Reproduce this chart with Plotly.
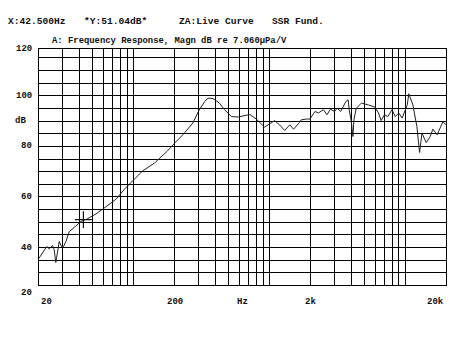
import plotly.graph_objects as go
import numpy as np

# ---- data ----
freq_hz = [20, 21.9, 22.8, 23.8, 25.2, 25.9, 26.6, 28.2, 29.3, 30.3, 31.6, 33.4, 36.4,
           40.8, 45.6, 52.6, 60.4, 73.8, 85.4, 100.9, 116, 142, 177, 200, 230, 272,
           304, 333, 352, 383, 428, 466, 523, 586, 656, 715, 800, 920, 975, 1093,
           1187, 1295, 1410, 1505, 1660, 1715, 1873, 1985, 2166, 2293, 2500, 2650,
           2815, 3017, 3160, 3348, 3650, 3800, 3870, 4010, 4120, 4190, 4360, 4760,
           5350, 6000, 6360, 6650, 7040, 7460, 7990, 8460, 8970, 9500, 10360, 10640,
           11400, 12200, 12770, 13300, 14300, 15300, 16000, 17200, 19000, 20000]
magn_db = [35.8, 39.1, 40.4, 39.5, 40.8, 39.1, 34.1, 42.4, 40.4, 40.4, 42.4, 46.3, 48.1,
           50.3, 51.4, 53.3, 55.6, 59.1, 63.1, 66.8, 70.3, 73.4, 78.2, 81.3, 84.6, 89.2,
           94.5, 97.7, 99.1, 98.9, 97.1, 94.5, 91.8, 91.6, 92.1, 92.6, 90.8, 87.6, 88.5, 90.2,
           88.5, 86.3, 88.5, 86.8, 89.4, 90.5, 90.8, 90.8, 93.8, 93.2, 94.5, 92.5,
           94.7, 93.8, 95.1, 93.8, 97.7, 98.4, 94.5, 89.8, 83.9, 90.5, 95.1, 97.1,
           96.4, 95.5, 93.2, 90.2, 92.5, 91.8, 94.5, 91.8, 93.2, 91.2, 96.4, 100.8,
           96.4, 87.9, 77.6, 85.2, 81.5, 83.9, 86.8, 84.6, 89.8, 88.5]

cursor_freq = [42.5]
cursor_db = [51.04]

x_grid = [20, 30, 40, 50, 60, 70, 80, 90, 100, 200, 300, 400, 500, 600, 700, 800, 900,
          1000, 2000, 3000, 4000, 5000, 6000, 7000, 8000, 9000, 10000, 20000]
y_grid = [30, 35, 40, 45, 50, 55, 60, 65, 70, 75, 80, 85, 90, 95, 100, 105, 110, 115]

x_label_text = ["20", "200", "Hz", "2k", "20k"]
x_label_pos = [20, 200, 632, 2000, 20000]
x_label_anchor = ["left", "center", "center", "center", "right"]

y_label_text = ["120", "100", "80", "60", "40", "20"]
y_label_pos = [118.6, 100, 80, 60, 40, 22.1]

header_texts = ["X:42.500Hz", "*Y:51.04dB*", "ZA:Live Curve", "SSR Fund."]
header_px = [6, 82, 177, 270]
title_text = "A: Frequency Response, Magn dB re 7.060\u00b5Pa/V"

# ---- layout geometry ----
W, H = 450, 338
L, R, T, B = 39, 4, 49, 53
pw, ph = W - L - R, H - T - B
XR = [np.log10(20), np.log10(20000)]
YR = [25.2, 118.5]

def px_x(px):
    return (px - L) / pw

def px_y(py):
    return (H - B - py) / ph

def fx(f):
    return (np.log10(f) - XR[0]) / (XR[1] - XR[0])

def dy(v):
    return (v - YR[0]) / (YR[1] - YR[0])

FONT = dict(family="Liberation Mono, Courier New, monospace", size=9, color="#111",
            weight="bold")
HFONT = dict(FONT, size=9.6)
TFONT = dict(FONT, size=8.9)

fig = go.Figure()
fig.add_trace(go.Scatter(x=freq_hz, y=magn_db, mode="lines",
                         line=dict(color="#222", width=1), hoverinfo="skip",
                         showlegend=False))
fig.add_trace(go.Scatter(x=cursor_freq, y=cursor_db, mode="markers",
                         marker=dict(symbol="cross-thin", size=12,
                                     line=dict(color="#111", width=1.2)),
                         showlegend=False, hoverinfo="skip"))

ann = []
for t, p in zip(header_texts, header_px):
    ann.append(dict(text=t, x=px_x(p), y=px_y(21), xref="paper", yref="paper",
                    xanchor="left", yanchor="middle", showarrow=False, font=HFONT))
ann.append(dict(text=title_text, x=px_x(50), y=px_y(41), xref="paper", yref="paper",
                xanchor="left", yanchor="middle", showarrow=False, font=TFONT))
for t, v in zip(y_label_text, y_label_pos):
    ann.append(dict(text=t, x=px_x(33.5), y=dy(v), xref="paper", yref="paper",
                    xanchor="right", yanchor="middle", showarrow=False, font=FONT))
ann.append(dict(text="dB", x=px_x(27.5), y=dy(90), xref="paper", yref="paper",
                xanchor="right", yanchor="middle", showarrow=False, font=FONT))
for t, v, a in zip(x_label_text, x_label_pos, x_label_anchor):
    ann.append(dict(text=t, x=fx(v), y=px_y(302), xref="paper", yref="paper",
                    xanchor=a, yanchor="middle", showarrow=False, font=FONT))

fig.update_layout(
    width=W, height=H, margin=dict(l=L, r=R, t=T, b=B),
    paper_bgcolor="white", plot_bgcolor="white",
    annotations=ann, showlegend=False,
    xaxis=dict(type="log", range=XR,
               tickvals=x_grid, showticklabels=False, ticks="",
               showgrid=True, gridcolor="#000", gridwidth=1, zeroline=False,
               showline=True, linecolor="#000", linewidth=1, mirror=True),
    yaxis=dict(range=YR, tickvals=y_grid, showticklabels=False, ticks="",
               showgrid=True, gridcolor="#000", gridwidth=1, zeroline=False,
               showline=True, linecolor="#000", linewidth=1, mirror=True),
)

fig.write_html("out.html", config={"displayModeBar": False},
               post_script="document.body.style.margin='0';"
                           "document.body.style.overflow='hidden';")
